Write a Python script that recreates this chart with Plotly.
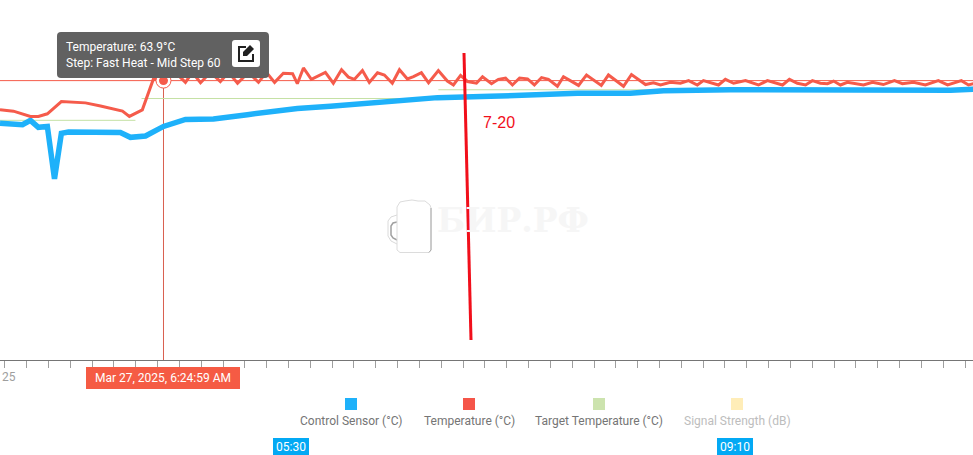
import plotly.graph_objects as go

W, H = 973, 455

# minutes after 05:25
temp_minutes = [-1.8, 3.3, 9.7, 12.7, 16.1, 21.4, 30.5, 36.2, 44.5, 47.1, 52.0, 56.2, 60.0, 64.5, 68.3, 70.9, 74.0, 77.8,
                81.5, 84.6, 88.0, 92.1, 95.9, 98.9, 102.0, 105.3, 108.8, 110.6, 112.9, 115.9, 121.2, 124.2, 127.3, 129.9,
                132.2, 135.2, 137.8, 140.9, 143.5, 146.5, 149.2, 152.2, 154.5, 157.5, 160.2, 163.9, 167.3, 169.6, 172.3,
                174.9, 178.3, 180.6, 184.0, 186.6, 189.3, 191.9, 194.6, 197.6, 200.2, 202.9, 205.5, 208.9, 211.2, 216.9,
                219.9, 225.5, 228.2, 233.9, 236.9, 242.2, 245.2, 247.9, 251.6, 255.4, 258.5, 261.8, 264.1, 269.8, 272.4,
                275.5, 280.0, 284.9, 288.3, 294.0, 296.6, 299.6, 302.7, 305.3, 308.3, 311.0, 313.3, 315.9, 318.5, 324.6,
                328.0, 332.1, 336.3, 339.3, 343.5, 348.0, 352.9, 356.4, 361.6, 364.3, 366.2]
temperature = [57.4, 57.1, 55.9, 55.9, 56.5, 59.3, 59.0, 58.3, 57.1, 55.9, 57.4, 64.5, 63.9, 66.0, 63.7, 66.0, 63.6, 66.0,
               63.9, 66.0, 63.5, 66.0, 63.7, 66.0, 63.7, 65.8, 65.7, 63.4, 67.0, 64.4, 66.0, 63.5, 66.6, 64.9,
               64.4, 66.4, 63.7, 65.9, 65.4, 63.5, 66.6, 64.5, 65.0, 65.9, 63.6, 66.4, 64.0, 63.1, 65.3,
               63.9, 63.5, 65.0, 63.4, 64.4, 64.7, 63.1, 64.7, 64.5, 63.1, 64.8, 64.4, 62.8, 65.0, 63.0,
               65.4, 63.0, 65.4, 62.8, 65.5, 63.2, 63.6, 63.1, 63.7, 63.5, 64.1, 63.1, 64.1, 63.1, 64.4,
               63.5, 64.1, 63.1, 64.1, 63.1, 64.4, 63.5, 63.1, 64.1, 63.5, 63.4, 64.0, 63.1, 63.7, 63.1,
               63.7, 63.2, 64.1, 63.4, 63.7, 63.1, 64.1, 63.1, 64.1, 63.1, 63.4]

control_minutes = [-1.8, 4.0, 6.7, 9.7, 12.7, 16.1, 18.8, 21.4, 24.1, 43.7, 47.5, 53.2, 60.0, 68.3, 78.9, 91.7, 110.6, 123.1,
                   135.6, 144.7, 157.2, 163.6, 183.6, 202.5, 216.5, 236.5, 249.0, 274.3, 312.1, 315.9, 321.6, 348.0,
                   351.8, 357.5, 366.2]
control_sensor = [54.3, 54.3, 54.0, 55.0, 53.4, 53.6, 41.6, 52.0, 52.3, 52.2, 51.1, 51.4, 53.6, 55.2, 55.3, 56.3, 57.7, 58.2,
                  58.9, 59.4, 59.8, 60.2, 60.5, 60.9, 61.2, 61.2, 61.8, 62.0, 61.9, 61.8, 61.9, 61.9,
                  61.7, 61.9, 62.1]

target_minutes = [-1.8, 49.4, None, 51.7, 163.5, None, 163.9, 366.2]
target_temp = [55, 55, None, 60, 60, None, 62, 62]

hover_minute = [60.0]
hover_temp = [64.1]

legend_names = ["Control Sensor (°C)", "Temperature (°C)", "Target Temperature (°C)", "Signal Strength (dB)"]
legend_colors = ["#1eb1fa", "#f55549", "#cce3ae", "#ffedb8"]
legend_text_colors = ["#757575", "#757575", "#757575", "#bdbdbd"]
legend_x = [351, 469, 599, 737]

RED = "#f55b4b"
BLUE = "#1eb1fa"
GREEN = "#c5e1a5"


def px(x):
    return x / W


def py(y):
    return 1 - y / H


def pth(points, close=True):
    d = "M " + " L ".join(f"{px(x):.5f},{py(y):.5f}" for x, y in points)
    return d + (" Z" if close else "")


def round_rect(x0, y0, x1, y1, r):
    return (f"M {px(x0 + r):.5f},{py(y0):.5f} L {px(x1 - r):.5f},{py(y0):.5f} "
            f"Q {px(x1):.5f},{py(y0):.5f} {px(x1):.5f},{py(y0 + r):.5f} L {px(x1):.5f},{py(y1 - r):.5f} "
            f"Q {px(x1):.5f},{py(y1):.5f} {px(x1 - r):.5f},{py(y1):.5f} L {px(x0 + r):.5f},{py(y1):.5f} "
            f"Q {px(x0):.5f},{py(y1):.5f} {px(x0):.5f},{py(y1 - r):.5f} L {px(x0):.5f},{py(y0 + r):.5f} "
            f"Q {px(x0):.5f},{py(y0):.5f} {px(x0 + r):.5f},{py(y0):.5f} Z")


def label(x, y, text, color, size=12, family="Roboto", **kw):
    return dict(x=px(x), y=py(y), xref="paper", yref="paper", text=text, showarrow=False,
                font=dict(color=color, size=size, family=family), xanchor=kw.pop("xanchor", "center"),
                yanchor="middle", **kw)


def box(x0, y0, x1, y1, color):
    return dict(type="rect", xref="paper", yref="paper", x0=px(x0), x1=px(x1), y0=py(y0), y1=py(y1),
                fillcolor=color, line_width=0, layer="above")


def path(d, fill=None, line=None, width=0):
    return dict(type="path", xref="paper", yref="paper", path=d, fillcolor=fill or "rgba(0,0,0,0)",
                line=dict(color=line or "rgba(0,0,0,0)", width=width), layer="above")


fig = go.Figure()
fig.add_trace(go.Scatter(x=target_minutes, y=target_temp, mode="lines", line=dict(color=GREEN, width=1)))
fig.add_trace(go.Scatter(x=control_minutes, y=control_sensor, mode="lines", line=dict(color=BLUE, width=5.5)))
fig.add_trace(go.Scatter(x=temp_minutes, y=temperature, mode="lines", line=dict(color=RED, width=3)))
fig.add_trace(go.Scatter(x=hover_minute, y=hover_temp, mode="markers",
                         marker=dict(size=15, color="white", line=dict(color=RED, width=1))))
fig.add_trace(go.Scatter(x=hover_minute, y=hover_temp, mode="markers", marker=dict(size=9, color=RED)))

mug = [(397, 207), (400, 202), (405, 201), (412, 200), (418, 201), (425, 201), (430, 205), (431, 208),
       (431, 250), (429, 252.5), (400, 252.5), (397, 250)]

shapes = [
    # crosshair
    dict(type="line", xref="paper", yref="y", x0=0, x1=1, y0=hover_temp[0], y1=hover_temp[0],
         line=dict(color=RED, width=1), layer="below"),
    dict(type="line", xref="x", yref="y", x0=hover_minute[0], x1=hover_minute[0], y0=hover_temp[0], y1=0,
         line=dict(color="#d9604f", width=1), layer="below"),
    # watermark mug
    path(pth([(397, 215), (391, 217), (388, 221), (388, 236), (391, 241), (397, 244)], close=False),
         line="#dadada", width=1),
    path(pth([(397, 222), (393, 223), (391, 226), (391, 235), (393, 238), (397, 240)], close=False),
         line="#a0a0a0", width=1.5),
    path(pth(mug), fill="white", line="#dcdcdc", width=1),
    path(pth([(431, 208), (431, 250), (429, 252.5)], close=False), line="#a8a8a8", width=1),
    # hand drawn mark
    dict(type="line", xref="paper", yref="paper", x0=px(464), y0=py(53), x1=px(471), y1=py(340),
         line=dict(color="#f10f1b", width=3), layer="above"),
    # tooltip
    path(round_rect(57, 32, 269, 78, 4), fill="#616161"),
    path(round_rect(232, 40, 260, 67, 3), fill="white"),
    path(pth([(246, 47), (239, 47), (239, 61), (253, 61), (253, 54)], close=False), line="#212121", width=2),
    path(pth([(243, 52), (250, 45), (254, 49), (247, 56), (243, 56)]), fill="#212121"),
    box(86, 367, 240, 389, "#f55b44"),
    box(273, 438, 309, 455, "#03a9f4"),
    box(717, 438, 753, 455, "#03a9f4"),
]
shapes += [box(cx - 6, 398, cx + 6, 410, c) for cx, c in zip(legend_x, legend_colors)]

annotations = [
    label(64, 47, "Temperature: 63.9°C", "white", xanchor="left"),
    label(64, 63, "Step: Fast Heat - Mid Step 60", "white", xanchor="left"),
    label(499, 123, "7-20", "#f10f1b", size=16, family="Liberation Sans"),
    label(513, 220, "<b>БИР.РФ</b>", "#f6f6f6", size=33, family="DejaVu Serif"),
    label(163, 378, "Mar 27, 2025, 6:24:59 AM", "white", size=12),
    label(0, 377, "25", "#9e9e9e", xanchor="left"),
    label(291, 446.5, "05:30", "white"),
    label(735, 446.5, "09:10", "white"),
]
annotations += [label(cx, 421, n, c) for cx, n, c in zip(legend_x, legend_names, legend_text_colors)]

fig.update_layout(
    width=W, height=H, margin=dict(l=0, r=0, t=0, b=0),
    paper_bgcolor="white", plot_bgcolor="white",
    showlegend=False, hovermode=False,
    font=dict(family="Roboto"),
    shapes=shapes, annotations=annotations,
    xaxis=dict(range=[-1.8, 366.0], tick0=0, dtick=8.25, ticks="outside", ticklen=7, tickcolor="#9e9e9e",
               showticklabels=False, showgrid=False, zeroline=False, showline=True, linecolor="#757575",
               linewidth=1, anchor="y"),
    yaxis=dict(domain=[95 / H, 1], range=[0.06, 82.58], visible=False),
)

fig.write_html("out.html", post_script="document.body.style.margin='0';", config=dict(displayModeBar=False))
